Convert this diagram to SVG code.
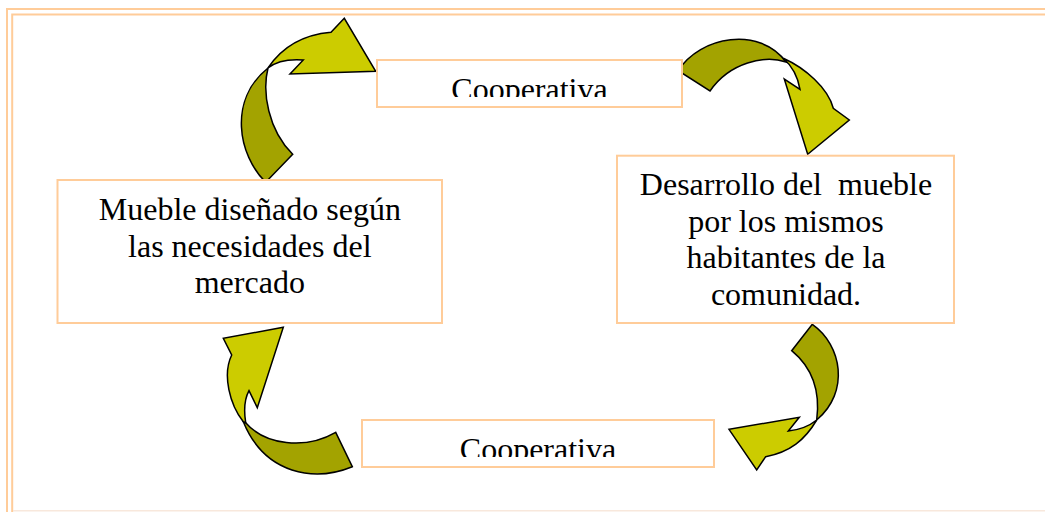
<svg xmlns="http://www.w3.org/2000/svg" width="1045" height="512" viewBox="0 0 1045 512">
<style>
.frame{fill:none;stroke:#FFCC99;stroke-width:2}
.box{fill:#FFFFFF;stroke:#FFCC99;stroke-width:2}
.lbl{font-family:"Liberation Serif","Times New Roman",serif;font-size:32px;fill:#000000;text-anchor:middle;white-space:pre}
.dark{fill:#A3A300;stroke:#000000;stroke-width:1.5;stroke-linejoin:miter}
.light{fill:#CCCC00;stroke:#000000;stroke-width:1.5;stroke-linejoin:miter}
</style>
<defs>
<clipPath id="clipTop"><rect x="378" y="61" width="303" height="36"/></clipPath>
<clipPath id="clipBot"><rect x="363" y="421" width="350" height="36"/></clipPath>
</defs>
<rect width="1045" height="512" fill="#FFFFFF"/>
<g id="frame">
<polyline class="frame" points="1045,9 7,9 7,512"/>
<polyline class="frame" points="1045,14.5 12.2,14.5 12.2,512"/>
<line x1="13" y1="510.8" x2="1045" y2="510.8" stroke="#F8E8DC" stroke-width="1.5"/>
</g>
<g id="connectors">
<g id="arrow-top-left">
<path class="dark" d="M265.7,182.3 C238,155 228,100 268,68 C262,92 268,130 292.7,154.3 Z"/>
<path class="light" d="M268,68 C280,50 300,35 331,32.3 L344.3,18.3 L375.7,71.3 L290,74 L303.3,60 C290,59 278,60 268,68 Z"/>
</g>
<g id="arrow-top-right">
<path class="dark" d="M678.3,70.7 C700,36 760,26 786,62 C765,55 730,62 710,91 Z"/>
<path class="light" d="M783.3,58.3 C805,68 828,88 833.3,108.3 L849.3,120 L807.7,154.3 L784.3,79 L800,89.3 C798,78 792,66 783.3,58.3 Z"/>
</g>
<g id="arrow-bottom-right">
<path class="dark" d="M812.3,324.3 C842,345 850,392 816.7,420 C820,395 815,370 791.7,350.7 Z"/>
<path class="light" d="M816.7,420 C805,440 790,452 765.7,456.7 L756.7,470 L729,429.3 L799.3,417.3 L788.3,431 C798,430 808,427 816.7,420 Z"/>
</g>
<g id="arrow-bottom-left">
<path class="dark" d="M352.3,466.7 C315,482 265,475 243.3,421.7 L245.7,422.7 C265,445 305,450 335.7,432.3 Z"/>
<path class="light" d="M243.3,421.7 C230,405 222,375 231.7,355 L223.3,338.3 L283.3,327.3 L257.3,407.7 L249,390.7 C244,400 244,412 245.7,422.7 Z"/>
</g>
</g>
<g id="node-cooperativa-top">
<rect class="box" x="377" y="60" width="305" height="47"/>
<text class="lbl" x="529.5" y="100" clip-path="url(#clipTop)">Cooperativa</text>
</g>
<g id="node-mueble">
<rect class="box" x="57.5" y="180" width="384.5" height="143"/>
<text class="lbl" x="249.8" y="220">Mueble diseñado según</text>
<text class="lbl" x="249.8" y="256.5">las necesidades del</text>
<text class="lbl" x="249.8" y="293">mercado</text>
</g>
<g id="node-desarrollo">
<rect class="box" x="617" y="155.7" width="337" height="167.3"/>
<text class="lbl" x="786" y="195">Desarrollo del  mueble</text>
<text class="lbl" x="786" y="231.7">por los mismos</text>
<text class="lbl" x="786" y="268.3">habitantes de la</text>
<text class="lbl" x="786" y="305">comunidad.</text>
</g>
<g id="node-cooperativa-bottom">
<rect class="box" x="362" y="420" width="352" height="47"/>
<text class="lbl" x="538" y="460" clip-path="url(#clipBot)">Cooperativa</text>
</g>
</svg>
